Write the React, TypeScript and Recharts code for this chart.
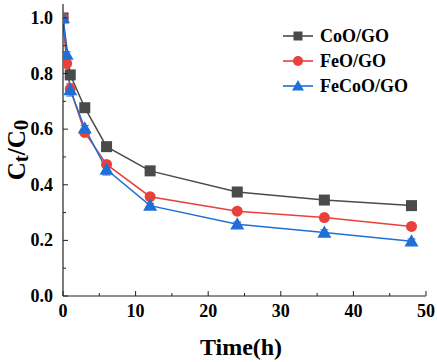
import React from 'react';
import { LineChart, Line, XAxis, YAxis, ErrorBar } from 'recharts';

const timesCoO = [0, 1, 3, 6, 12, 24, 36, 48];
const valuesCoO = [1.0, 0.795, 0.677, 0.537, 0.45, 0.374, 0.345, 0.325];

const timesFeO = [0, 0.5, 1, 3, 6, 12, 24, 36, 48];
const valuesFeO = [1.0, 0.836, 0.745, 0.588, 0.473, 0.357, 0.305, 0.282, 0.25];

const timesFeCoO = [0, 0.5, 1, 3, 6, 12, 24, 36, 48];
const valuesFeCoO = [1.0, 0.868, 0.741, 0.603, 0.455, 0.325, 0.258, 0.228, 0.197];
const errorsFeCoO = [0, 0.01, 0.022, 0.01, 0.02, 0.008, 0.008, 0.01, 0.008];

const xTicks = [0, 5, 10, 15, 20, 25, 30, 35, 40, 45, 50];
const yTicks = [0, 0.1, 0.2, 0.3, 0.4, 0.5, 0.6, 0.7, 0.8, 0.9, 1.0];

const seriesNames = ['CoO/GO', 'FeO/GO', 'FeCoO/GO'];
const colors = ['#4a4a4a', '#e8413c', '#1f6fd6'];

const dataCoO = timesCoO.map((t, i) => ({ t, v: valuesCoO[i] }));
const dataFeO = timesFeO.map((t, i) => ({ t, v: valuesFeO[i] }));
const dataFeCoO = timesFeCoO.map((t, i) => ({ t, v: valuesFeCoO[i], e: errorsFeCoO[i] }));

const FONT = 'Liberation Serif';
const textStyle: React.CSSProperties = { fontFamily: FONT, fontWeight: 'bold' };

const XTick = (props: any) => {
  const { x, y, payload } = props;
  const v = payload.value;
  const major = v % 10 === 0;
  return (
    <g>
      <line x1={x} x2={x} y1={y} y2={y - (major ? 5 : 3)} stroke="#222" strokeWidth={1} />
      {major && (
        <text
          x={x}
          y={y + 21}
          textAnchor="middle"
          fontFamily={FONT}
          fontWeight="bold"
          fontSize={18}
          style={{ ...textStyle, fontSize: 18 }}
          fill="#000"
        >
          {String(v)}
        </text>
      )}
    </g>
  );
};

const YTick = (props: any) => {
  const { x, y, payload } = props;
  const v = payload.value;
  const major = Math.round(v * 10) % 2 === 0;
  return (
    <g>
      <line x1={x} x2={x + (major ? 5 : 3)} y1={y} y2={y} stroke="#222" strokeWidth={1} />
      {major && (
        <text
          x={x - 10}
          y={y + 6}
          textAnchor="end"
          fontFamily={FONT}
          fontWeight="bold"
          fontSize={18}
          style={{ ...textStyle, fontSize: 18 }}
          fill="#000"
        >
          {v.toFixed(1)}
        </text>
      )}
    </g>
  );
};

const SquareDot = (props: any) => {
  const { cx, cy, index } = props;
  if (cx == null || cy == null) return <g key={index} />;
  return <rect key={index} x={cx - 5.5} y={cy - 5.5} width={11} height={11} fill={colors[0]} />;
};
const CircleDot = (props: any) => {
  const { cx, cy, index } = props;
  if (cx == null || cy == null) return <g key={index} />;
  return <circle key={index} cx={cx} cy={cy} r={5.5} fill={colors[1]} />;
};
const TriDot = (props: any) => {
  const { cx, cy, index } = props;
  if (cx == null || cy == null) return <g key={index} />;
  const s = 7;
  return (
    <path
      key={index}
      d={`M${cx},${cy - s} L${cx + s},${cy + s * 0.75} L${cx - s},${cy + s * 0.75} Z`}
      fill={colors[2]}
    />
  );
};

const legendMarker = (i: number, cx: number, cy: number) => {
  if (i === 0) return <rect x={cx - 4.5} y={cy - 4.5} width={9} height={9} fill={colors[0]} />;
  if (i === 1) return <circle cx={cx} cy={cy} r={5} fill={colors[1]} />;
  return <path d={`M${cx},${cy - 6} L${cx + 6},${cy + 4.5} L${cx - 6},${cy + 4.5} Z`} fill={colors[2]} />;
};

const legendX = 283;
const legendY = [36, 61, 86];

export default function App() {
  return (
    <div style={{ position: 'absolute', left: 0, top: 0, width: 437, height: 362, background: '#fff' }}>
      <LineChart width={437} height={362} margin={{ top: 4, right: 11, left: 0, bottom: 0 }}>
        <XAxis
          xAxisId="b"
          type="number"
          dataKey="t"
          domain={[0, 50]}
          ticks={xTicks}
          allowDataOverflow
          tick={<XTick />}
          tickLine={false}
          tickSize={0}
          tickMargin={0}
          axisLine={{ stroke: '#222', strokeWidth: 1.2 }}
          height={66}
          interval={0}
        />
        <XAxis
          xAxisId="top"
          orientation="top"
          type="number"
          dataKey="t"
          domain={[0, 50]}
          tick={false}
          tickLine={false}
          axisLine={{ stroke: '#666', strokeWidth: 1.2 }}
          height={0}
        />
        <YAxis
          yAxisId="l"
          type="number"
          domain={[0, 1.05]}
          ticks={yTicks}
          allowDataOverflow
          tick={<YTick />}
          tickLine={false}
          tickSize={0}
          tickMargin={0}
          axisLine={{ stroke: '#222', strokeWidth: 1.2 }}
          width={63}
          interval={0}
        />
        <YAxis
          yAxisId="r"
          orientation="right"
          type="number"
          domain={[0, 1.05]}
          tick={false}
          tickLine={false}
          axisLine={{ stroke: '#666', strokeWidth: 1.2 }}
          width={0}
        />
        <Line
          xAxisId="b"
          yAxisId="l"
          data={dataCoO}
          dataKey="v"
          stroke={colors[0]}
          strokeWidth={1.5}
          dot={<SquareDot />}
          isAnimationActive={false}
          name={seriesNames[0]}
        />
        <Line
          xAxisId="b"
          yAxisId="l"
          data={dataFeO}
          dataKey="v"
          stroke={colors[1]}
          strokeWidth={1.5}
          dot={<CircleDot />}
          isAnimationActive={false}
          name={seriesNames[1]}
        />
        <Line
          xAxisId="b"
          yAxisId="l"
          data={dataFeCoO}
          dataKey="v"
          stroke={colors[2]}
          strokeWidth={1.5}
          dot={<TriDot />}
          isAnimationActive={false}
          name={seriesNames[2]}
        >
          <ErrorBar dataKey="e" width={4} stroke={colors[2]} strokeWidth={1} direction="y" />
        </Line>
        <g>
          {seriesNames.map((n, i) => (
            <g key={n}>
              <line x1={legendX} x2={legendX + 30} y1={legendY[i]} y2={legendY[i]} stroke={colors[i]} strokeWidth={1.6} />
              {legendMarker(i, legendX + 15, legendY[i])}
              <text x={legendX + 37} y={legendY[i] + 6} style={{ ...textStyle, fontSize: 18 }} fill="#000">
                {n}
              </text>
            </g>
          ))}
        </g>
        <text x={241} y={355} textAnchor="middle" style={{ ...textStyle, fontSize: 24 }} fill="#000">
          Time(h)
        </text>
        <text transform="translate(25,150) rotate(-90)" textAnchor="middle" style={{ ...textStyle, fontSize: 25 }} fill="#000">
          C<tspan fontSize={21} dy={3}>t</tspan>
          <tspan fontSize={25} dy={-3}>/C</tspan>
          <tspan fontSize={21} dy={3}>0</tspan>
        </text>
      </LineChart>
    </div>
  );
}
